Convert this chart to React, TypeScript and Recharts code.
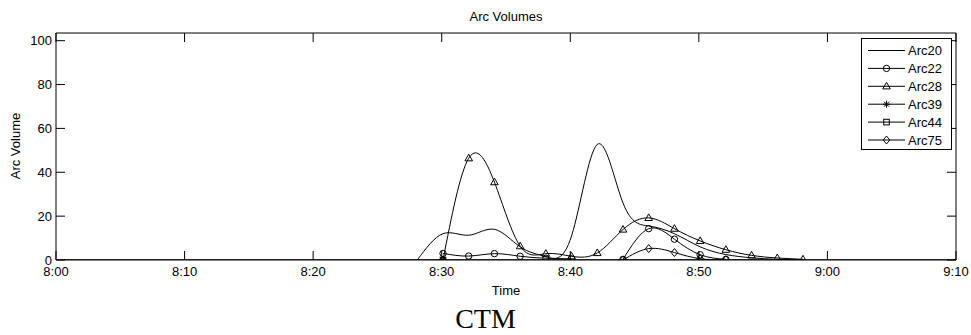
import React from 'react';
import { LineChart, Line, XAxis, YAxis } from 'recharts';

// sample times, minutes after 8:00 (every 2 min in the busy window)
const sampleMinutes = [28.1, 30.1, 32.1, 34.1, 36.1, 38.1, 40.1, 42.1, 44.1, 46.1, 48.1, 50.1, 52.1, 54.1, 56.1, 58.1];

const arc20 = [0, 12, 11.3, 14, 6, 1.5, 11, 52.7, 26, 15.5, 12, 6, 2.5, 1, 0.3, 0];
const arc22 = [null, 3, 1.8, 2.9, 1.7, 0.8, 0.5, null, 0.3, 14.3, 9.5, 2.4, 0.3, null, null, null];
const arc28 = [null, 0, 46.4, 35.5, 6.3, 2.9, 1.7, 3.2, 13.9, 19.2, 14.3, 8.7, 4.7, 2.1, 0.9, 0.3];
const arc75 = [null, 0, null, null, null, null, null, null, 0, 5.2, 3.4, 0.6, 0.1, null, null, null];

// these two stay at zero over the whole window
const baseMinutes = [0, 30.1, 70];
const arc39 = [0, 0, 0];
const arc44 = [0, 0, 0];

const tickMinutes = [0, 10, 20, 30, 40, 50, 60, 70];
const tickLabels = ['8:00', '8:10', '8:20', '8:30', '8:40', '8:50', '9:00', '9:10'];
const volumeTicks = [0, 20, 40, 60, 80, 100];

type Shape = 'none' | 'circle' | 'triangle' | 'star' | 'square' | 'diamond';

const toPoints = (times: number[], values: (number | null)[]) =>
  times.map((t, i) => ({ t, v: values[i] }));

// the zero-valued series sit on the top/right axes so the plot box gets drawn
const series: { name: string; shape: Shape; xId: string; yId: string; data: { t: number; v: number | null }[] }[] = [
  { name: 'Arc20', shape: 'none', xId: 'b', yId: 'l', data: toPoints(sampleMinutes, arc20) },
  { name: 'Arc22', shape: 'circle', xId: 'b', yId: 'l', data: toPoints(sampleMinutes, arc22) },
  { name: 'Arc28', shape: 'triangle', xId: 'b', yId: 'l', data: toPoints(sampleMinutes, arc28) },
  { name: 'Arc39', shape: 'star', xId: 't', yId: 'r', data: toPoints(baseMinutes, arc39) },
  { name: 'Arc44', shape: 'square', xId: 't', yId: 'r', data: toPoints(baseMinutes, arc44) },
  { name: 'Arc75', shape: 'diamond', xId: 'b', yId: 'l', data: toPoints(sampleMinutes, arc75) },
];

const FONT = '"Liberation Sans", Arial, sans-serif';

const Marker = ({ shape, x, y }: { shape: Shape; x: number; y: number }) => {
  const s = { fill: 'none', stroke: '#000', strokeWidth: 1 };
  switch (shape) {
    case 'circle':
      return <circle cx={x} cy={y} r={3.2} {...s} />;
    case 'triangle':
      return <polygon points={`${x},${y - 4} ${x + 3.8},${y + 2.6} ${x - 3.8},${y + 2.6}`} {...s} />;
    case 'square':
      return <rect x={x - 2.8} y={y - 2.8} width={5.6} height={5.6} {...s} />;
    case 'diamond':
      return <polygon points={`${x},${y - 4} ${x + 3.3},${y} ${x},${y + 4} ${x - 3.3},${y}`} {...s} />;
    case 'star':
      return (
        <g {...s}>
          <line x1={x - 3.5} y1={y} x2={x + 3.5} y2={y} />
          <line x1={x} y1={y - 3.5} x2={x} y2={y + 3.5} />
          <line x1={x - 2.5} y1={y - 2.5} x2={x + 2.5} y2={y + 2.5} />
          <line x1={x - 2.5} y1={y + 2.5} x2={x + 2.5} y2={y - 2.5} />
        </g>
      );
    default:
      return null;
  }
};

const dotFor = (shape: Shape) => (props: any) => {
  const { cx, cy, index, payload } = props;
  const key = `d-${shape}-${index}`;
  if (shape === 'none' || cx == null || cy == null || payload?.v == null) return <g key={key} />;
  if (payload.t === 0 || payload.t === 70) return <g key={key} />;
  return (
    <g key={key}>
      <Marker shape={shape} x={cx} y={cy} />
    </g>
  );
};

const LegendBox = () => (
  <svg
    width={92}
    height={113}
    style={{ position: 'absolute', left: 861, top: 38 }}
  >
    <rect x={0.5} y={0.5} width={90} height={111} fill="#fff" stroke="#000" />
    {series.map((s, i) => {
      const y = 12.5 + i * 17.9;
      return (
        <g key={s.name}>
          <line x1={7} y1={y} x2={44} y2={y} stroke="#000" />
          <Marker shape={s.shape} x={25.5} y={y} />
          <text x={47} y={y + 4.6} fontSize={13} fontFamily={FONT} fill="#000">
            {s.name}
          </text>
        </g>
      );
    })}
  </svg>
);

const axisStroke = { stroke: '#000' };
const blank = () => '';

const App: React.FC = () => {
  return (
    <div style={{ position: 'absolute', left: 0, top: 0, width: 971, height: 335, background: '#fff' }}>
      <LineChart width={971} height={335} margin={{ top: 32, right: 14, bottom: 55, left: 6 }}>
        <XAxis
          xAxisId="b"
          type="number"
          dataKey="t"
          domain={[0, 70]}
          ticks={tickMinutes}
          interval={0}
          tickFormatter={(m: number) => tickLabels[tickMinutes.indexOf(m)]}
          height={20}
          tickSize={-9}
          tickMargin={16}
          axisLine={axisStroke}
          tickLine={axisStroke}
          tick={{ fill: '#000', fontSize: 13, fontFamily: FONT }}
          allowDataOverflow
        />
        <XAxis
          xAxisId="t"
          orientation="top"
          type="number"
          dataKey="t"
          domain={[0, 70]}
          ticks={tickMinutes}
          interval={0}
          height={1}
          tickSize={-9}
          tickFormatter={blank}
          axisLine={axisStroke}
          tickLine={axisStroke}
          allowDataOverflow
        />
        <YAxis
          yAxisId="l"
          type="number"
          domain={[0, 103.5]}
          ticks={volumeTicks}
          interval={0}
          width={50}
          tickSize={-9}
          tickMargin={13}
          axisLine={axisStroke}
          tickLine={axisStroke}
          tick={{ fill: '#000', fontSize: 13, fontFamily: FONT }}
          allowDataOverflow
        />
        <YAxis
          yAxisId="r"
          orientation="right"
          type="number"
          domain={[0, 103.5]}
          ticks={volumeTicks}
          interval={0}
          width={1}
          tickSize={-9}
          tickFormatter={blank}
          axisLine={axisStroke}
          tickLine={axisStroke}
          allowDataOverflow
        />
        {series.map((s) => (
          <Line
            key={s.name}
            xAxisId={s.xId}
            yAxisId={s.yId}
            data={s.data}
            dataKey="v"
            name={s.name}
            type="natural"
            stroke="#000"
            strokeWidth={1}
            dot={dotFor(s.shape)}
            activeDot={false}
            isAnimationActive={false}
          />
        ))}
      </LineChart>

      <div style={{ position: 'absolute', left: 56, width: 900, top: 8, textAlign: 'center', fontFamily: FONT, fontSize: 13, lineHeight: '17px' }}>
        Arc Volumes
      </div>
      <div style={{ position: 'absolute', left: 56, width: 900, top: 282, textAlign: 'center', fontFamily: FONT, fontSize: 13, lineHeight: '17px' }}>
        Time
      </div>
      <div
        style={{
          position: 'absolute',
          left: 15,
          top: 146,
          transform: 'translate(-50%, -50%) rotate(-90deg)',
          whiteSpace: 'nowrap',
          fontFamily: FONT,
          fontSize: 13,
          lineHeight: '17px',
        }}
      >
        Arc Volume
      </div>
      <div style={{ position: 'absolute', left: 0, width: 971, top: 302, textAlign: 'center', fontFamily: '"Liberation Serif", "Times New Roman", serif', fontSize: 28, lineHeight: '34px' }}>
        CTM
      </div>
      <LegendBox />
    </div>
  );
};

export default App;
